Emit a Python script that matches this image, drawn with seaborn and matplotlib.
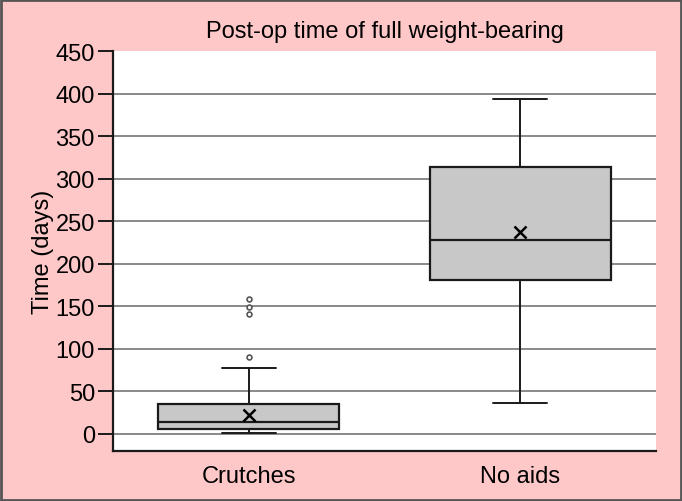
#!/usr/bin/env python3
"""
    Box plot of post-op time until full weight-bearing, crutches vs no aids
"""
import matplotlib
matplotlib.use("Agg")
import matplotlib.pyplot as plt
import matplotlib.patches as mpatches
import pandas as pd
import seaborn as sns

# data
groups = ["Crutches", "No aids"]
whisker_low = [1, 36]
q1 = [6, 181]
medians = [14, 228]
q3 = [35, 314]
whisker_high = [78, 394]
means = [22, 237]
outliers = [[90, 141, 149, 159], []]

y_ticks = [0, 50, 100, 150, 200, 250, 300, 350, 400, 450]

sns.set_theme(style="white")
plt.rcParams["font.family"] = ["Liberation Sans", "DejaVu Sans"]

FS = 17

fig = plt.figure(figsize=(6.82, 5.02), dpi=100, facecolor="#FFC8C8")
ax = fig.add_axes([0.1657, 0.0996, 0.7962, 0.7968])

stats = []
for i, g in enumerate(groups):
    stats.append({"label": g, "whislo": whisker_low[i], "q1": q1[i], "med": medians[i],
                  "q3": q3[i], "whishi": whisker_high[i], "fliers": outliers[i],
                  "mean": means[i]})

ax.bxp(stats, positions=range(len(groups)), widths=0.665, patch_artist=True,
       showmeans=False, capwidths=0.2,
       boxprops=dict(facecolor="#C8C8C8", edgecolor="#1a1a1a", linewidth=1.6),
       medianprops=dict(color="#1a1a1a", linewidth=1.6),
       whiskerprops=dict(color="#1a1a1a", linewidth=1.4),
       capprops=dict(color="#1a1a1a", linewidth=1.4),
       flierprops=dict(marker="o", markersize=3.5, markerfacecolor="white",
                       markeredgecolor="#555555", markeredgewidth=1.2),
       zorder=3)

# means drawn as an "x"
mean_frame = pd.DataFrame({"pos": range(len(groups)), "mean": means})
sns.scatterplot(data=mean_frame, x="pos", y="mean", marker="x", s=75,
                color="black", linewidth=1.8, ax=ax, zorder=4, legend=False)

ax.set_xlim(-0.5, 1.5)
ax.set_ylim(-20, 450)
ax.set_yticks(y_ticks)
ax.set_xticks(range(len(groups)))
ax.set_xticklabels(groups)
for y in y_ticks[:-1]:
    ax.axhline(y, color="#808080", linewidth=1.3, zorder=1)

ax.set_facecolor("white")
for side in ["top", "right"]:
    ax.spines[side].set_visible(False)
for side in ["left", "bottom"]:
    ax.spines[side].set_color("#1a1a1a")
    ax.spines[side].set_linewidth(1.6)

ax.tick_params(axis="y", length=11, width=1.4, color="#1a1a1a", labelsize=FS,
               labelcolor="black", left=True, pad=2)
ax.tick_params(axis="x", length=0, labelsize=FS, labelcolor="black", pad=10)
ax.set_xlabel("")
ax.set_ylabel("Time (days)", fontsize=FS, color="black", labelpad=1)
ax.set_title("Post-op time of full weight-bearing", fontsize=FS, color="black", pad=10)

# dark frame round the whole picture
fig.patches.append(mpatches.Rectangle((0.0015, 0.002), 0.997, 0.996, transform=fig.transFigure,
                                      fill=False, edgecolor="#555555", linewidth=2))

fig.savefig("out.png", dpi=100, facecolor=fig.get_facecolor())
